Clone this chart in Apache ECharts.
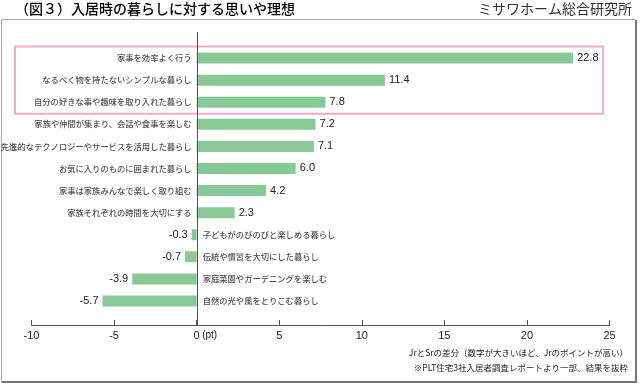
<!DOCTYPE html>
<html><head><meta charset="utf-8">
<script src="https://cdn.jsdelivr.net/npm/echarts@6/dist/echarts.min.js"></script>
<style>html,body{margin:0;padding:0;background:#fff}#c{width:640px;height:387px}</style>
</head><body><div id="c"></div>
<script>
const categories = [
  '家事を効率よく行う',
  'なるべく物を持たないシンプルな暮らし',
  '自分の好きな事や趣味を取り入れた暮らし',
  '家族や仲間が集まり、会話や食事を楽しむ',
  '先進的なテクノロジーやサービスを活用した暮らし',
  'お気に入りのものに囲まれた暮らし',
  '家事は家族みんなで楽しく取り組む',
  '家族それぞれの時間を大切にする',
  '子どもがのびのびと楽しめる暮らし',
  '伝統や慣習を大切にした暮らし',
  '家庭菜園やガーデニングを楽しむ',
  '自然の光や風をとりこむ暮らし'
];
const values = [22.8, 11.4, 7.8, 7.2, 7.1, 6.0, 4.2, 2.3, -0.3, -0.7, -3.9, -5.7];
const highlighted = [0, 1, 2];
const xTicks = [-10, -5, 0, 5, 10, 15, 20, 25];
const titleMain = '入居時の暮らしに対する思いや理想';
const titleFig = '（図３）';
const source = 'ミサワホーム総合研究所';
const notes = ['JrとSrの差分（数字が大きいほど、Jrのポイントが高い）', '※PLT住宅3社入居者調査レポートより一部、結果を抜粋'];

const FONT = '"Noto Sans CJK JP", sans-serif';
const chart = echarts.init(document.getElementById('c'), null, {renderer: 'canvas'});

const barData = values.map(v => ({
  value: v,
  label: {position: v >= 0 ? 'right' : 'left', distance: 4}
}));
const nameData = categories.map((c, i) => ({
  value: [0, i],
  label: {position: values[i] >= 0 ? 'left' : 'right', distance: values[i] >= 0 ? 5 : 6}
}));

chart.setOption({
  animation: false,
  grid: {left: 31.5, right: 30.5, top: 47, bottom: 75},
  xAxis: {
    type: 'value', min: xTicks[0], max: xTicks[xTicks.length - 1], interval: 5,
    offset: 13,
    axisLine: {show: true, lineStyle: {color: '#555', width: 1}},
    axisTick: {show: true, inside: true, length: 5, lineStyle: {color: '#555'}},
    splitLine: {show: false},
    axisLabel: {
      color: '#222', fontSize: 11, fontFamily: 'Liberation Sans, Arial, sans-serif', margin: 5,
      formatter: v => v === 0 ? '{e|}0{p|(pt)}' : String(v),
      rich: {e: {width: 18}, p: {fontSize: 10, color: '#222', padding: [0, 0, 0, 2], width: 16}}
    }
  },
  yAxis: {
    type: 'category', data: categories, inverse: true,
    axisLine: {show: false}, axisTick: {show: false}, axisLabel: {show: false}, splitLine: {show: false}
  },
  series: [
    {
      type: 'bar', data: barData, barWidth: 11,
      itemStyle: {color: '#89c998'},
      label: {show: true, color: '#222', fontSize: 11, fontFamily: 'Liberation Sans, Arial, sans-serif',
        formatter: p => p.value.toFixed(1)}
    },
    {
      type: 'scatter', data: nameData, symbolSize: 0, silent: true,
      label: {show: true, color: '#222', fontSize: 8.3, fontWeight: 500, fontFamily: FONT,
        formatter: p => categories[p.data.value[1]]}
    }
  ]
});

function draw() {
  const x0 = chart.convertToPixel({xAxisIndex: 0}, 0);
  const xEnd = chart.convertToPixel({xAxisIndex: 0}, 24.6);
  const band = chart.convertToPixel({yAxisIndex: 0}, 1) - chart.convertToPixel({yAxisIndex: 0}, 0);
  const yTop = chart.convertToPixel({yAxisIndex: 0}, highlighted[0]) - band / 2 - 0.5;
  const yBot = chart.convertToPixel({yAxisIndex: 0}, highlighted[highlighted.length - 1]) + band / 2 + 0.5;
  chart.setOption({
    graphic: [
      {type: 'rect', shape: {x: 1.5, y: 19.5, width: 634, height: 362}, style: {fill: null, stroke: '#a8a8a8', lineWidth: 1}, z: 0},
      {type: 'line', shape: {x1: 636, y1: 20, x2: 636, y2: 382.5}, style: {stroke: '#777', lineWidth: 2}},
      {type: 'line', shape: {x1: 1.5, y1: 382, x2: 637, y2: 382}, style: {stroke: '#777', lineWidth: 2}},
      {type: 'line', shape: {x1: Math.round(x0) + 0.5, y1: 32, x2: Math.round(x0) + 0.5, y2: 325}, style: {stroke: '#555', lineWidth: 1}, z: 10},
      {type: 'rect', shape: {x: 15, y: yTop, width: xEnd - 15, height: yBot - yTop}, style: {fill: null, stroke: '#f5a8d2', lineWidth: 2}, z: 5},
      {type: 'text', left: 15, top: 2, style: {text: '{g|' + titleFig + '}{t|' + titleMain + '}', rich: {
        g: {fontSize: 14, fontFamily: FONT, color: '#2fa55a', fontWeight: 500},
        t: {fontSize: 14, fontFamily: FONT, color: '#222', fontWeight: 500}}}},
      {type: 'text', right: 8, top: 2, style: {text: source, fontSize: 14, fontFamily: FONT, fill: '#333'}},
      {type: 'text', right: 12, top: 349, style: {text: notes[0], fontSize: 8.5, fontFamily: FONT, fill: '#222', align: 'right'}},
      {type: 'text', right: 12, top: 364, style: {text: notes[1], fontSize: 8.5, fontFamily: FONT, fill: '#222', align: 'right'}}
    ]
  });
}
draw();
</script></body></html>
